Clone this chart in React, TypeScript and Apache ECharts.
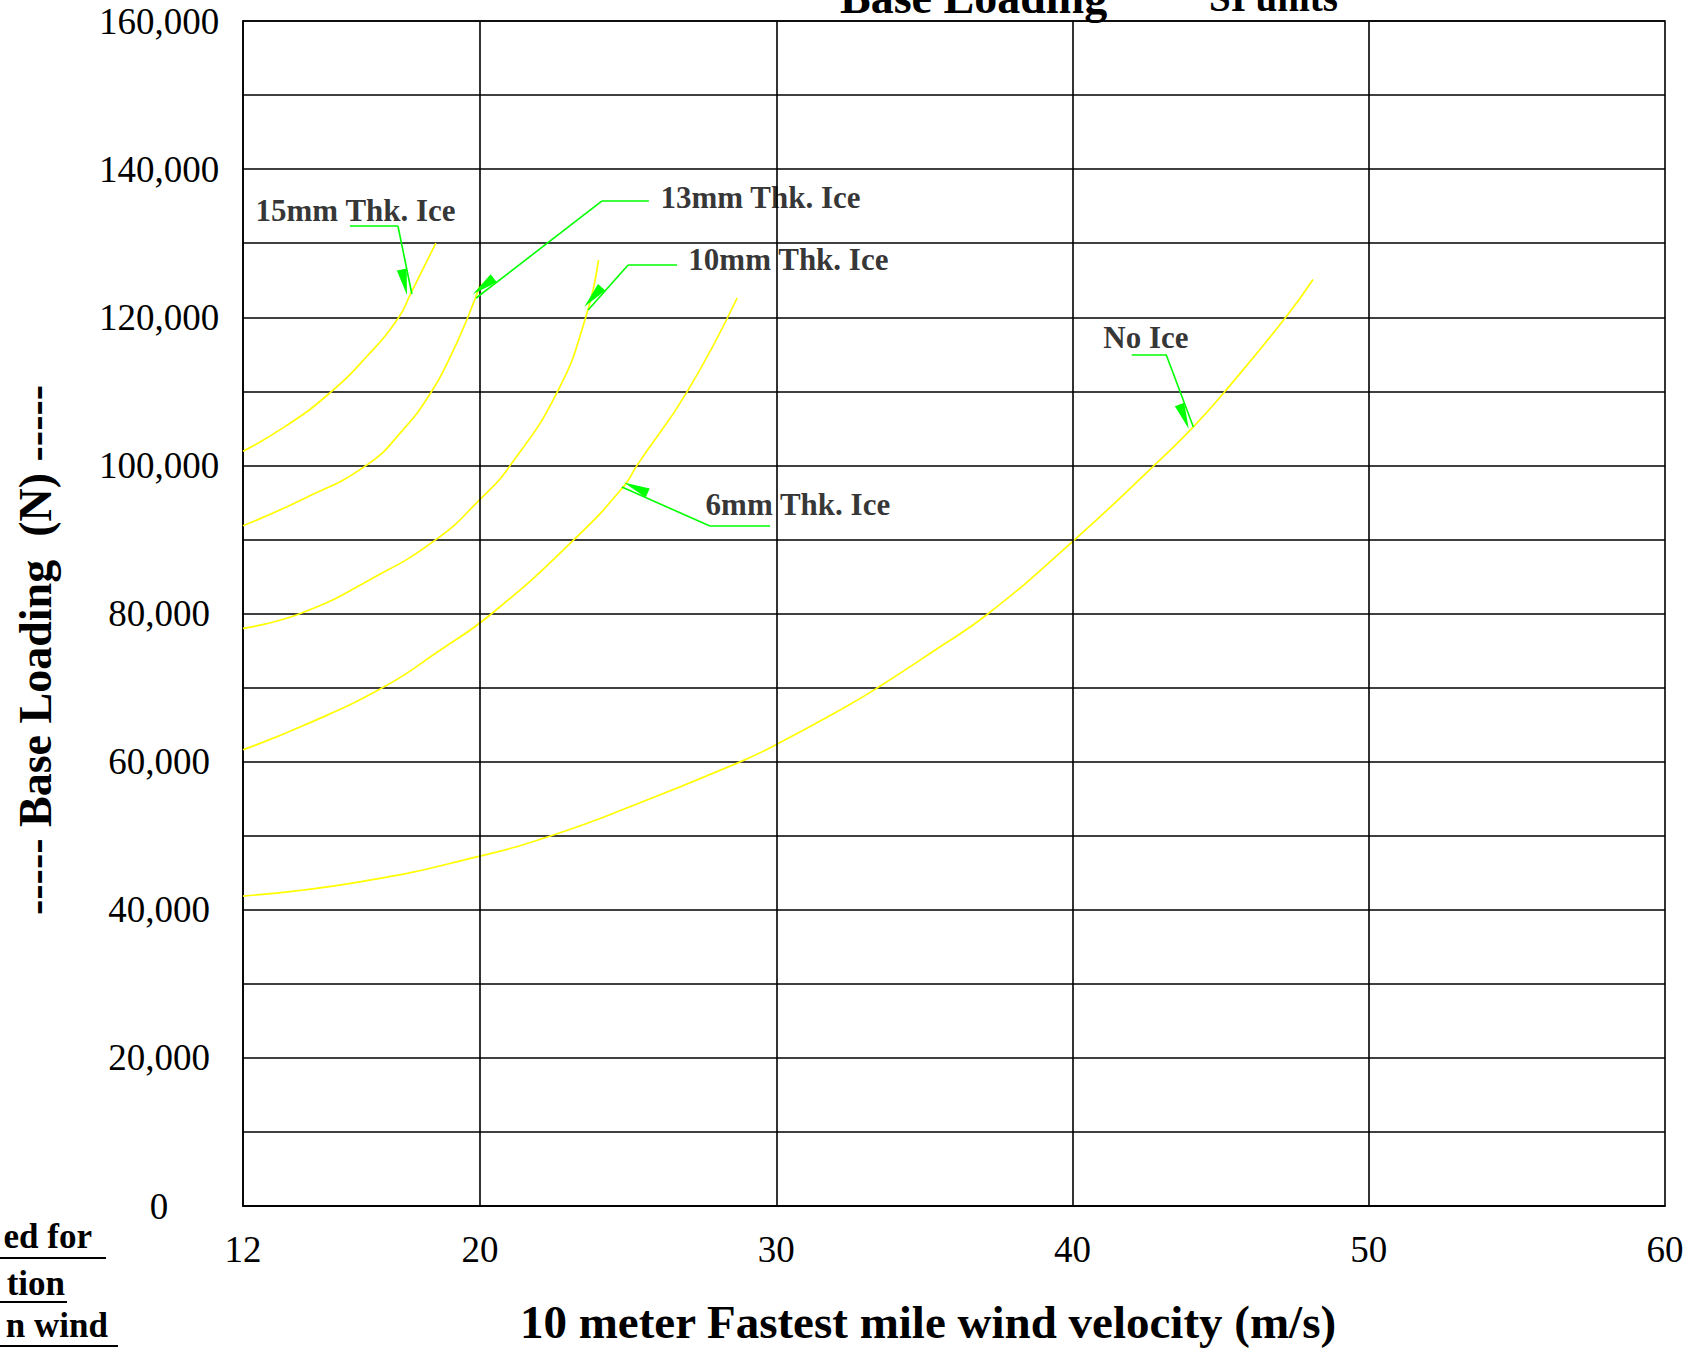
import React, { useEffect, useRef } from 'react';
import * as echarts from 'echarts';

const SERIF = '"Liberation Serif", "Times New Roman", Times, serif';

// vertical grid lines (wind speed, m/s)
const gridX = [20, 30, 40, 50];

// curves: wind speed (m/s) vs base loading (N)
const noIceWind = [12, 16, 20, 22.4, 25, 28.8, 30, 32.26, 33.43, 35.3, 37.16, 40, 42.76, 44.08, 45.15, 47.2, 48.12];
const noIceLoad = [41850, 43800, 47250, 50000, 53800, 60000, 62300, 67200, 70000, 74900, 80000, 89700, 100000, 105200, 110000, 120000, 125100];

const ice6Wind = [12, 14, 16.72, 18.6, 20.4, 23.18, 24.86, 25.3, 27.0, 28.68];
const ice6Load = [61600, 64800, 70000, 74900, 80000, 90000, 97200, 100000, 110000, 122600];

const ice10Wind = [12, 13.94, 16.3, 18.52, 20, 21.02, 22.62, 23.57, 24.0];
const ice10Load = [78000, 80000, 84600, 90000, 95400, 100000, 110000, 120000, 127700];

const ice13Wind = [12, 14, 16.16, 17.4, 18.37, 19.0, 19.59, 20.03];
const ice13Load = [91850, 95400, 100000, 104800, 110000, 114700, 120000, 124700];

const ice15Wind = [12, 13.4, 14.85, 16.2, 17.26, 17.66, 18.51];
const ice15Load = [101900, 105200, 109500, 114800, 120000, 123200, 130000];

// annotation labels and leader lines (data coordinates)
const labelNames = ['15mm Thk. Ice', '13mm Thk. Ice', '10mm Thk. Ice', '6mm Thk. Ice', 'No Ice'];
const labelPos = [
  [15.8, 134480],
  [29.47, 136235],
  [30.41, 127730],
  [30.73, 94650],
  [42.48, 117200],
];
const leaders = [
  [[15.61, 132320], [17.23, 132320], [17.7, 123140]],
  [[25.7, 135700], [24.12, 135700], [19.87, 122600]],
  [[26.65, 127050], [25.0, 127050], [23.65, 120980]],
  [[29.79, 91810], [27.76, 91810], [24.79, 97080]],
  [[42.0, 114970], [43.16, 114970], [44.08, 105180]],
];

const fmtThousands = (v: number) => String(v).replace(/\B(?=(\d{3})+(?!\d))/g, ',');

export default function App() {
  const ref = useRef<HTMLDivElement>(null);

  useEffect(() => {
    if (!ref.current) return;
    const chart = echarts.init(ref.current, null, { renderer: 'svg' });

    const curves = [
      { name: 'No Ice', x: noIceWind, y: noIceLoad },
      { name: '6mm', x: ice6Wind, y: ice6Load },
      { name: '10mm', x: ice10Wind, y: ice10Load },
      { name: '13mm', x: ice13Wind, y: ice13Load },
      { name: '15mm', x: ice15Wind, y: ice15Load },
    ];

    const series: any[] = curves.map((c) => ({
      type: 'line',
      name: c.name,
      data: c.x.map((v, i) => [v, c.y[i]]),
      smooth: 0.5,
      showSymbol: false,
      symbol: 'none',
      silent: true,
      z: 3,
      lineStyle: { color: '#ffff00', width: 1.7 },
    }));

    series.push({
      type: 'line',
      data: [],
      z: 1,
      silent: true,
      markLine: {
        silent: true,
        animation: false,
        symbol: ['none', 'none'],
        label: { show: false },
        lineStyle: { color: '#000', width: 1.6, type: 'solid' },
        emphasis: { disabled: true },
        data: gridX.map((v) => ({ xAxis: v })),
      },
    });

    const leaderData: any[] = [];
    leaders.forEach((l) => {
      leaderData.push([
        { coord: l[0], symbol: 'none' },
        { coord: l[1], symbol: 'none' },
      ]);
      leaderData.push([
        { coord: l[1], symbol: 'none' },
        { coord: l[2], symbol: 'triangle' },
      ]);
    });

    series.push({
      type: 'line',
      data: [],
      z: 4,
      silent: true,
      markLine: {
        silent: true,
        animation: false,
        symbolSize: [10, 26],
        symbolOffset: [0, '50%'],
        label: { show: false },
        lineStyle: { color: '#00ff00', width: 1.6, type: 'solid' },
        itemStyle: { color: '#00ff00' },
        emphasis: { disabled: true },
        data: leaderData,
      },
    });

    series.push({
      type: 'scatter',
      z: 5,
      silent: true,
      symbolSize: 1,
      itemStyle: { color: 'rgba(0,0,0,0)' },
      data: labelNames.map((n, i) => ({ value: labelPos[i], name: n })),
      label: {
        show: true,
        position: 'inside',
        formatter: '{b}',
        color: '#000',
        fontFamily: SERIF,
        fontWeight: 'bold',
        fontSize: 31,
      },
    });

    const textStyle = (text: string, size: number, align: string) => ({
      text,
      fontSize: size,
      fontWeight: 'bold',
      fontFamily: SERIF,
      fill: '#000',
      align,
      verticalAlign: 'middle',
    });

    chart.setOption({
      animation: false,
      backgroundColor: '#ffffff',
      grid: {
        left: 243,
        right: 28,
        top: 21,
        bottom: 142,
        show: true,
        borderColor: '#000',
        borderWidth: 1.6,
        backgroundColor: 'transparent',
        containLabel: false,
        outerBoundsMode: 'none',
      },
      xAxis: {
        type: 'value',
        min: 12,
        max: 60,
        interval: 2,
        axisLine: { show: true, lineStyle: { color: '#000', width: 1.6 } },
        axisTick: { show: false },
        splitLine: { show: false },
        axisLabel: {
          show: true,
          margin: 25,
          color: '#000',
          fontFamily: SERIF,
          fontSize: 37,
          formatter: (v: number) => (v === 12 || v % 10 === 0 ? String(v) : ''),
        },
      },
      yAxis: {
        type: 'value',
        min: 0,
        max: 160000,
        interval: 10000,
        axisLine: { show: true, lineStyle: { color: '#000', width: 1.6 } },
        axisTick: { show: false },
        splitLine: { show: true, lineStyle: { color: '#000', width: 1.6 } },
        axisLabel: {
          show: true,
          margin: 84,
          align: 'center',
          color: '#000',
          fontFamily: SERIF,
          fontSize: 37,
          formatter: (v: number) => (v % 20000 === 0 ? fmtThousands(v) : ''),
        },
      },
      graphic: [
        { type: 'text', x: 840, y: -3, silent: true, style: textStyle('Base Loading', 46, 'left') },
        { type: 'text', x: 1209, y: -3, silent: true, style: textStyle('SI units', 39, 'left') },
        { type: 'text', x: 928, y: 1322, silent: true, style: textStyle('10 meter Fastest mile wind velocity (m/s)', 47, 'center') },
        {
          type: 'text',
          x: 35,
          y: 650,
          rotation: Math.PI / 2,
          silent: true,
          style: textStyle('----- Base Loading  (N) -----', 46, 'center'),
        },
        { type: 'text', x: 92, y: 1236, silent: true, style: textStyle('ed for', 35, 'right') },
        { type: 'text', x: 65, y: 1283, silent: true, style: textStyle('tion', 35, 'right') },
        { type: 'text', x: 108, y: 1325, silent: true, style: textStyle('n wind', 35, 'right') },
        { type: 'line', silent: true, shape: { x1: 0, y1: 1258, x2: 106, y2: 1258 }, style: { stroke: '#000', lineWidth: 2 } },
        { type: 'line', silent: true, shape: { x1: 0, y1: 1302, x2: 67, y2: 1302 }, style: { stroke: '#000', lineWidth: 2 } },
        { type: 'line', silent: true, shape: { x1: 0, y1: 1346, x2: 118, y2: 1346 }, style: { stroke: '#000', lineWidth: 2 } },
      ],
      series,
    });

    return () => {
      chart.dispose();
    };
  }, []);

  return (
    <div
      ref={ref}
      style={{ position: 'fixed', left: 0, top: 0, width: 1693, height: 1348, background: '#fff' }}
    />
  );
}
